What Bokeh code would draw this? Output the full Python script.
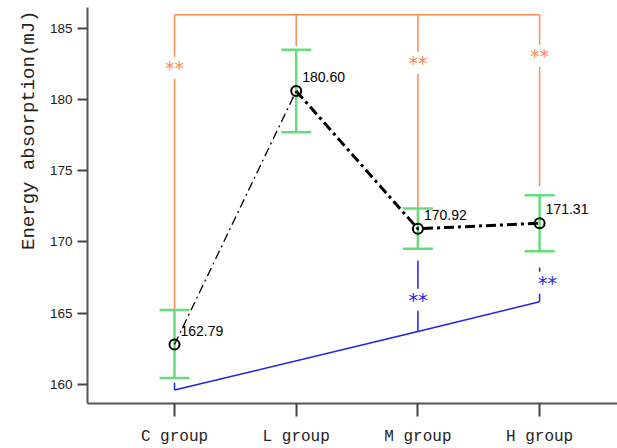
from bokeh.plotting import figure
from bokeh.models import ColumnDataSource, Whisker, TeeHead, FixedTicker, Range1d, Title
from bokeh.core.properties import value
from bokeh.embed import file_html
from bokeh.resources import INLINE

# ---- data ----
groups = ["C group", "L group", "M group", "H group"]
xpos = [0, 1, 2, 3]
means = [162.79, 180.60, 170.92, 171.31]
err_low = [160.44, 177.70, 169.51, 169.35]
err_high = [165.21, 183.49, 172.35, 173.28]
mean_labels = ["162.79", "180.60", "170.92", "171.31"]
y_ticks = [160, 165, 170, 175, 180, 185]
y_title = "Energy absorption(mJ)"

# orange significance bracket (C vs others)
orange_top = 185.95
orange_bottom = [165.2, 183.75, 172.4, 173.9]
orange_star_x = [0, 2, 3]
orange_star_y = [182.3, 182.65, 183.14]

# blue significance bracket (from C, to M and H)
blue_x = [0, 2, 3]
blue_base = [159.6, 163.7, 165.8]
blue_top = [160.1, 168.7, 168.2]
blue_star_x = [2, 3]
blue_star_y = [166.0, 167.2]

ORANGE = "#FF8A55"
BLUE = "#1F1FF0"
GREEN = "#66DD7A"
STAR_FONT = value("DejaVu Sans")

p = figure(width=617, height=448, output_backend="svg", toolbar_location=None,
           x_range=Range1d(-0.715, 3.640), y_range=Range1d(158.65, 186.46),
           min_border_left=87, min_border_right=0, min_border_top=7, min_border_bottom=45)
p.outline_line_color = None
p.xgrid.visible = False
p.ygrid.visible = False
p.background_fill_color = "white"

# orange bracket
p.line(x=[xpos[0], xpos[3]], y=[orange_top, orange_top], line_color=ORANGE, line_width=1.5)
p.segment(x0=xpos, y0=[orange_top] * 4, x1=xpos, y1=orange_bottom, line_color=ORANGE, line_width=1.5)
p.text(x=orange_star_x, y=orange_star_y, text=["**"] * 3, text_color=ORANGE,
       text_font=STAR_FONT, text_font_size="19px",
       text_align="center", text_baseline="middle",
       background_fill_color="white", y_offset=1)

# blue bracket
p.line(x=blue_x, y=blue_base, line_color=BLUE, line_width=1.5)
p.segment(x0=blue_x, y0=blue_base, x1=blue_x, y1=blue_top, line_color=BLUE, line_width=1.5)
p.text(x=[blue_star_x[0]], y=[blue_star_y[0]], text=["**"], text_color=BLUE,
       text_font=STAR_FONT, text_font_size="19px",
       text_align="center", text_baseline="middle",
       background_fill_color="white", y_offset=1)
p.text(x=[blue_star_x[1]], y=[blue_star_y[1]], text=["**"], text_color=BLUE,
       text_font=STAR_FONT, text_font_size="19px",
       text_align="center", text_baseline="middle",
       background_fill_color="white", x_offset=8, y_offset=1)

# error bars
src = ColumnDataSource(dict(x=xpos, lo=err_low, hi=err_high, m=means, lab=mean_labels))
w = Whisker(source=src, base="x", lower="lo", upper="hi", dimension="height",
            line_color=GREEN, line_width=2.5,
            upper_head=TeeHead(size=30, line_color=GREEN, line_width=2.5),
            lower_head=TeeHead(size=30, line_color=GREEN, line_width=2.5))
p.add_layout(w)

# mean line
p.line(x=xpos[0:2], y=means[0:2], line_color="black", line_width=1.3, line_dash="9 4 2 4")
p.line(x=xpos[1:], y=means[1:], line_color="black", line_width=3, line_dash="10 4 3 4")
p.scatter(x="x", y="m", source=src, marker="circle", size=10, fill_alpha=0,
          line_color="black", line_width=2)
p.text(x="x", y="m", text="lab", source=src, text_color="black",
       text_font=value("Liberation Sans"), text_font_size="14px",
       text_align="left", text_baseline="middle", x_offset=6, y_offset=-14)

# axes
for ax in (p.xaxis[0], p.yaxis[0]):
    ax.axis_line_color = "#555555"
    ax.axis_line_width = 2
    ax.major_tick_line_color = "#444444"
    ax.major_tick_line_width = 2
    ax.minor_tick_line_color = None
    ax.major_tick_in = 0
    ax.major_label_text_color = "#222222"

p.xaxis.ticker = FixedTicker(ticks=xpos)
p.xaxis.major_label_overrides = {x: g for x, g in zip(xpos, groups)}
p.xaxis.major_tick_out = 13
p.xaxis.major_label_standoff = 11
p.xaxis.major_label_text_font = "Liberation Mono"
p.xaxis.major_label_text_font_size = "16px"

p.yaxis.ticker = FixedTicker(ticks=y_ticks)
p.yaxis.major_tick_out = 10
p.yaxis.major_label_standoff = 5
p.yaxis.major_label_text_font = "Liberation Sans"
p.yaxis.major_label_text_font_size = "13.5px"

# y-axis title, placed at the top end of the axis as in the reference
p.add_layout(Title(text=y_title, align="right", text_font="Liberation Mono",
                   text_font_size="19px", text_font_style="normal",
                   text_color="#222222", standoff=14, offset=3), "left")

open("out.html", "w").write(file_html(p, INLINE))
